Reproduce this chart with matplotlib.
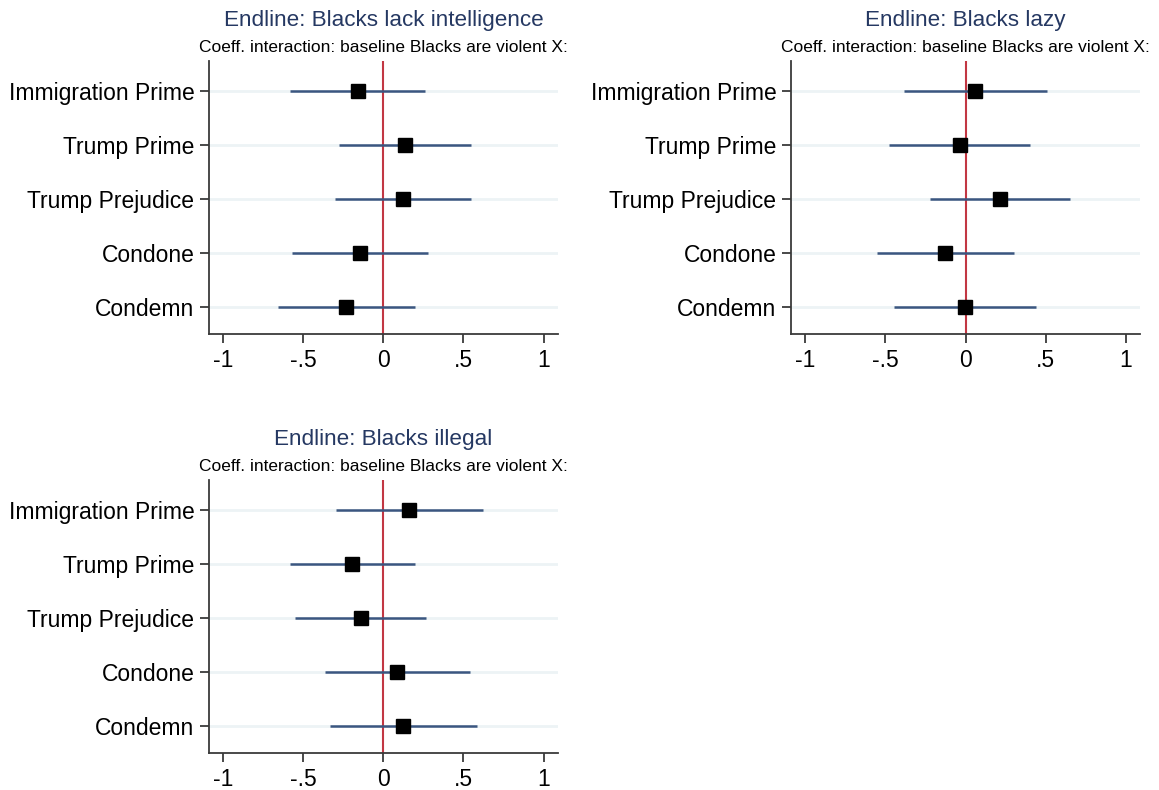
import matplotlib
matplotlib.use("Agg")
import matplotlib.pyplot as plt

plt.rcParams['font.family'] = ['Liberation Sans', 'DejaVu Sans']

# 处理组（从上到下）
treatments = ['Immigration Prime', 'Trump Prime', 'Trump Prejudice', 'Condone', 'Condemn']
subtitle = 'Coeff. interaction: baseline Blacks are violent X:'
xticks = [-1, -0.5, 0, 0.5, 1]
xticklabels = ['-1', '-.5', '0', '.5', '1']

# Endline: Blacks lack intelligence
coef_intel = [-0.162, 0.137, 0.123, -0.148, -0.233]
lo_intel = [-0.584, -0.276, -0.301, -0.572, -0.658]
hi_intel = [0.262, 0.545, 0.549, 0.278, 0.194]

# Endline: Blacks lazy
coef_lazy = [0.062, -0.037, 0.215, -0.127, -0.005]
lo_lazy = [-0.385, -0.478, -0.219, -0.556, -0.448]
hi_lazy = [0.510, 0.406, 0.653, 0.302, 0.438]

# Endline: Blacks illegal
coef_illegal = [0.160, -0.194, -0.143, 0.086, 0.125]
lo_illegal = [-0.298, -0.583, -0.553, -0.365, -0.337]
hi_illegal = [0.620, 0.197, 0.266, 0.539, 0.585]

panels = [
    ('Endline: Blacks lack intelligence', coef_intel, lo_intel, hi_intel, [0.1803, 0.5772, 0.3011, 0.3456]),
    ('Endline: Blacks lazy', coef_lazy, lo_lazy, hi_lazy, [0.6825, 0.5772, 0.3011, 0.3456]),
    ('Endline: Blacks illegal', coef_illegal, lo_illegal, hi_illegal, [0.1803, 0.0468, 0.3011, 0.3456]),
]

TITLE_COLOR = '#253862'
CI_COLOR = '#3b5680'
ZERO_COLOR = '#c23743'
GRID_COLOR = '#edf3f5'
AXIS_COLOR = '#3a3a3a'

fig = plt.figure(figsize=(11.59, 7.90), dpi=100)

for title, coef, lo, hi, rect in panels:
    ax = fig.add_axes(rect)
    ypos = list(range(1, len(treatments) + 1))

    # 背景横线
    for y in ypos:
        ax.axhline(y, color=GRID_COLOR, lw=2, zorder=0)

    ax.axvline(0, color=ZERO_COLOR, lw=1.5, zorder=1)
    ax.hlines(ypos, lo, hi, color=CI_COLOR, lw=1.8, zorder=2)
    ax.plot(coef, ypos, 's', color='black', markersize=9.8, zorder=3)

    ax.set_xlim(-1.09, 1.09)
    ax.set_ylim(5.5, 0.445)
    ax.set_xticks(xticks)
    ax.set_xticklabels(xticklabels)
    ax.set_yticks(ypos)
    ax.set_yticklabels(treatments)

    for side in ['top', 'right']:
        ax.spines[side].set_visible(False)
    for side in ['left', 'bottom']:
        ax.spines[side].set_color(AXIS_COLOR)
        ax.spines[side].set_linewidth(1.3)

    ax.tick_params(axis='both', colors=AXIS_COLOR, length=6.5, width=1.3,
                   labelsize=16.5, labelcolor='black')
    ax.tick_params(axis='y', pad=4)
    ax.tick_params(axis='x', pad=4)

    ax.text(0.5, 1.150, title, transform=ax.transAxes, ha='center', va='center',
            fontsize=16.2, color=TITLE_COLOR)
    ax.text(0.5, 1.051, subtitle, transform=ax.transAxes, ha='center', va='center',
            fontsize=12.5, color='black')

fig.savefig('out.png', dpi=100, facecolor='white')
